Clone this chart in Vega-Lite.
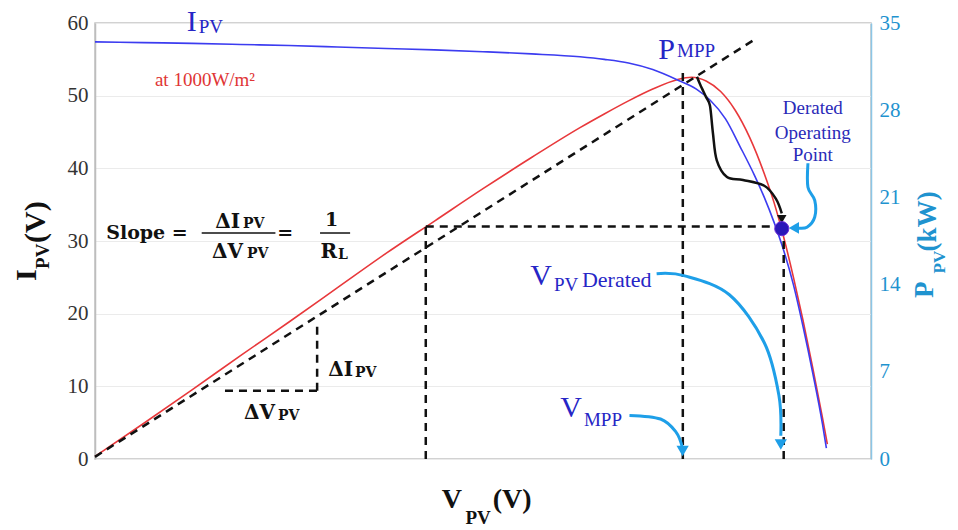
{
  "$schema": "https://vega.github.io/schema/vega-lite/v6.json",
  "width": 776,
  "height": 436,
  "autosize": {"type": "none"},
  "padding": {"left": 95, "top": 23, "right": 87, "bottom": 71},
  "background": "white",
  "config": {
    "view": {"stroke": "#c4c4c4", "strokeWidth": 1.5},
    "axis": {"labelFont": "Liberation Serif", "labelFontSize": 21, "labelColor": "#333333", "gridColor": "#ebebeb", "ticks": false, "domainColor": "#bdbdbd", "domainWidth": 1.5, "labelFlush": false, "labelOverlap": false}
  },
  "datasets": {
    "iv": [
      {"v": 0, "i": 57.4}, {"v": 50, "i": 57.3}, {"v": 100, "i": 57.2}, {"v": 150, "i": 57.05}, {"v": 200, "i": 56.9},
      {"v": 250, "i": 56.7}, {"v": 300, "i": 56.5}, {"v": 350, "i": 56.3}, {"v": 400, "i": 56.05}, {"v": 450, "i": 55.75},
      {"v": 500, "i": 55.35}, {"v": 525, "i": 55.0}, {"v": 550, "i": 54.5}, {"v": 575, "i": 53.6}, {"v": 600, "i": 52.2},
      {"v": 620, "i": 50.9}, {"v": 634, "i": 49.4}, {"v": 650, "i": 46.8}, {"v": 665, "i": 43.0}, {"v": 680, "i": 39.0},
      {"v": 690, "i": 36.0}, {"v": 700, "i": 32.6}, {"v": 710, "i": 28.7}, {"v": 720, "i": 24.0}, {"v": 730, "i": 18.2},
      {"v": 740, "i": 11.8}, {"v": 750, "i": 4.8}, {"v": 754, "i": 1.5}
    ],
    "pv": [
      {"v": 0, "p": 0.2}, {"v": 50, "p": 2.85}, {"v": 100, "p": 5.55}, {"v": 150, "p": 8.3}, {"v": 200, "p": 11.0},
      {"v": 250, "p": 13.75}, {"v": 300, "p": 16.5}, {"v": 350, "p": 19.1}, {"v": 400, "p": 21.7}, {"v": 450, "p": 24.2},
      {"v": 500, "p": 26.6}, {"v": 525, "p": 27.7}, {"v": 550, "p": 28.75}, {"v": 575, "p": 29.7}, {"v": 600, "p": 30.45},
      {"v": 615, "p": 30.65}, {"v": 630, "p": 30.35}, {"v": 645, "p": 29.5}, {"v": 660, "p": 28.0}, {"v": 675, "p": 25.8},
      {"v": 690, "p": 22.9}, {"v": 700, "p": 20.6}, {"v": 710, "p": 17.8}, {"v": 720, "p": 14.6}, {"v": 730, "p": 11.1},
      {"v": 740, "p": 7.3}, {"v": 750, "p": 3.3}, {"v": 755, "p": 1.2}
    ],
    "dashed": [
      {"v": 0, "i": 0.3, "v2": 682, "i2": 57.9},
      {"v": 606, "i": 0, "v2": 606, "i2": 53.5},
      {"v": 341, "i": 32.0, "v2": 709, "i2": 32.0},
      {"v": 341, "i": 0, "v2": 341, "i2": 32.0},
      {"v": 710, "i": 0, "v2": 710, "i2": 32.0},
      {"v": 134, "i": 9.4, "v2": 229, "i2": 9.4},
      {"v": 229, "i": 9.4, "v2": 229, "i2": 18.2}
    ],
    "bars": [
      {"v": 110, "i": 31.1, "v2": 186, "i2": 31.1},
      {"v": 232, "i": 31.1, "v2": 263, "i2": 31.1}
    ],
    "blackArrow": [
      {"k": 1, "v": 620.6, "i": 52.6}, {"k": 2, "v": 624, "i": 51.5}, {"k": 3, "v": 630, "i": 49.8},
      {"k": 4, "v": 634, "i": 48.6}, {"k": 5, "v": 637, "i": 44.9}, {"k": 6, "v": 641, "i": 41.1},
      {"k": 7, "v": 651.5, "i": 38.8}, {"k": 8, "v": 668, "i": 38.4}, {"k": 9, "v": 690, "i": 37.6},
      {"k": 10, "v": 702, "i": 35.8}, {"k": 11, "v": 708, "i": 33.8}
    ],
    "blackHead": [{"v": 708, "i": 33.0}],
    "blueArrows": [
      {"id": "a", "k": 1, "v": 551, "i": 6.0}, {"id": "a", "k": 2, "v": 583, "i": 5.5}, {"id": "a", "k": 3, "v": 599, "i": 3.7}, {"id": "a", "k": 4, "v": 605.5, "i": 1.6},
      {"id": "b", "k": 1, "v": 579, "i": 25.5}, {"id": "b", "k": 2, "v": 608, "i": 25.2}, {"id": "b", "k": 3, "v": 654, "i": 22.6}, {"id": "b", "k": 4, "v": 690, "i": 16.0}, {"id": "b", "k": 5, "v": 705, "i": 8.8}, {"id": "b", "k": 6, "v": 707, "i": 3.2},
      {"id": "c", "k": 1, "v": 735, "i": 40.7}, {"id": "c", "k": 2, "v": 735, "i": 37.4}, {"id": "c", "k": 3, "v": 742, "i": 35.6}, {"id": "c", "k": 4, "v": 742, "i": 33.3}, {"id": "c", "k": 5, "v": 734, "i": 31.9}, {"id": "c", "k": 6, "v": 724, "i": 31.8}
    ],
    "blueHeadsDown": [{"v": 605.8, "i": 1.1}, {"v": 707, "i": 2.0}],
    "blueHeadsLeft": [{"v": 720.5, "i": 31.8}],
    "dot": [{"v": 708, "i": 31.7}],
    "tBigR": [
      {"t": "I", "v": 105, "i": 60.1},
      {"t": "P", "v": 598, "i": 56.3},
      {"t": "V", "v": 471.1, "i": 25.2},
      {"t": "V", "v": 502, "i": 7.0}
    ],
    "tSubL": [
      {"t": "PV", "v": 107, "i": 59.4},
      {"t": "MPP", "v": 600, "i": 56.1},
      {"t": "PV", "v": 473.2, "i": 23.9},
      {"t": "MPP", "v": 504.1, "i": 5.4}
    ],
    "tMidL": [
      {"t": "Derated", "v": 502, "i": 24.6}
    ],
    "tOp": [
      {"t": "Derated", "v": 740, "i": 48.3},
      {"t": "Operating", "v": 740, "i": 44.9},
      {"t": "Point", "v": 740, "i": 41.8}
    ],
    "tRed": [
      {"t": "at 1000W/m²", "v": 113.4, "i": 52.2}
    ],
    "tMathC": [
      {"t": "Slope =", "v": 53.6, "i": 31.1},
      {"t": "=", "v": 196, "i": 31.1},
      {"t": "1", "v": 244, "i": 32.9}
    ],
    "tMathR": [
      {"t": "ΔI", "v": 149.5, "i": 32.6},
      {"t": "ΔV", "v": 152.6, "i": 28.5},
      {"t": "R", "v": 249.5, "i": 28.5},
      {"t": "ΔI", "v": 266, "i": 12.2},
      {"t": "ΔV", "v": 185.6, "i": 6.3}
    ],
    "tMathSubL": [
      {"t": "PV", "v": 152.6, "i": 32.3},
      {"t": "PV", "v": 156.7, "i": 28.2},
      {"t": "L", "v": 250.5, "i": 28.1},
      {"t": "PV", "v": 268, "i": 11.8},
      {"t": "PV", "v": 188.7, "i": 5.9}
    ],
    "tTitleLeftBig": [
      {"t": "I", "v": -70, "i": 25.3},
      {"t": "(V)", "v": -60.8, "i": 32.6}
    ],
    "tTitleLeftSub": [
      {"t": "PV", "v": -53.6, "i": 27.9}
    ],
    "tTitleBottomBig": [
      {"t": "V", "v": 368, "i": -5.6},
      {"t": "(V)", "v": 430, "i": -5.6}
    ],
    "tTitleBottomSub": [
      {"t": "PV", "v": 395, "i": -8.1}
    ],
    "tTitleRightBig": [
      {"t": "P", "v": 855.7, "i": 23.3},
      {"t": "(kW)", "v": 858.8, "i": 32.7}
    ],
    "tTitleRightSub": [
      {"t": "PV", "v": 871.1, "i": 27.1}
    ]
  },
  "layer": [
    {
      "data": {"name": "pv"},
      "mark": {"type": "line", "color": "#e8383b", "strokeWidth": 1.6, "interpolate": "monotone"},
      "encoding": {
        "x": {"field": "v", "type": "quantitative", "scale": {"domain": [0, 800], "nice": false}, "axis": null},
        "y": {"field": "p", "type": "quantitative", "scale": {"domain": [0, 35], "nice": false},
          "axis": {"orient": "right", "title": null, "values": [0, 7, 14, 21, 28, 35], "grid": false, "labelFont": "Liberation Serif", "labelFontSize": 21, "labelColor": "#1f93cf", "domainColor": "#8cc6e6", "labelPadding": 8}}
      }
    },
    {
      "encoding": {
        "x": {"field": "v", "type": "quantitative", "scale": {"domain": [0, 800], "nice": false},
          "axis": {"title": null, "values": [0, 100, 200, 300, 400, 500, 600, 700, 800], "grid": true, "labelFont": "Liberation Serif", "labelFontSize": 21, "labelColor": "#333333", "labelPadding": 9}},
        "y": {"field": "i", "type": "quantitative", "scale": {"domain": [0, 60], "nice": false},
          "axis": {"orient": "left", "title": null, "values": [0, 10, 20, 30, 40, 50, 60], "grid": true, "labelFont": "Liberation Serif", "labelFontSize": 21, "labelColor": "#333333", "labelPadding": 7}}
      },
      "layer": [
        {"data": {"name": "iv"}, "mark": {"type": "line", "color": "#3c3cf0", "strokeWidth": 1.6, "interpolate": "monotone"}},
        {"data": {"name": "dashed"}, "mark": {"type": "rule", "color": "#111111", "strokeWidth": 2.5, "strokeDash": [8, 6]},
          "encoding": {"x2": {"field": "v2"}, "y2": {"field": "i2"}}},
        {"data": {"name": "bars"}, "mark": {"type": "rule", "color": "#111111", "strokeWidth": 1.5},
          "encoding": {"x2": {"field": "v2"}, "y2": {"field": "i2"}}},
        {"data": {"name": "blueArrows"}, "mark": {"type": "line", "color": "#1e9fe8", "strokeWidth": 3, "interpolate": "cardinal"},
          "encoding": {"detail": {"field": "id"}, "order": {"field": "k", "type": "quantitative"}}},
        {"data": {"name": "blackArrow"}, "mark": {"type": "line", "color": "#111111", "strokeWidth": 2.5, "interpolate": "cardinal"},
          "encoding": {"order": {"field": "k", "type": "quantitative"}}},
        {"data": {"name": "blackHead"}, "mark": {"type": "point", "shape": "triangle-down", "filled": true, "color": "#111111", "size": 90, "opacity": 1}},
        {"data": {"name": "blueHeadsDown"}, "mark": {"type": "point", "shape": "triangle-down", "filled": true, "color": "#1e9fe8", "size": 150, "opacity": 1}},
        {"data": {"name": "blueHeadsLeft"}, "mark": {"type": "point", "shape": "triangle-left", "filled": true, "color": "#1e9fe8", "size": 140, "opacity": 1}},
        {"data": {"name": "dot"}, "mark": {"type": "point", "shape": "circle", "filled": true, "color": "#2a18b8", "size": 200, "opacity": 1, "stroke": "#6a2ad8", "strokeWidth": 1}},
        {"data": {"name": "tBigR"}, "mark": {"type": "text", "font": "Liberation Serif", "fontSize": 30, "color": "#2626c6", "align": "right", "baseline": "middle"},
          "encoding": {"text": {"field": "t"}}},
        {"data": {"name": "tSubL"}, "mark": {"type": "text", "font": "Liberation Serif", "fontSize": 19, "color": "#2626c6", "align": "left", "baseline": "middle"},
          "encoding": {"text": {"field": "t"}}},
        {"data": {"name": "tMidL"}, "mark": {"type": "text", "font": "Liberation Serif", "fontSize": 22, "color": "#2626c6", "align": "left", "baseline": "middle"},
          "encoding": {"text": {"field": "t"}}},
        {"data": {"name": "tOp"}, "mark": {"type": "text", "font": "Liberation Serif", "fontSize": 19, "color": "#2a2ab8", "align": "center", "baseline": "middle"},
          "encoding": {"text": {"field": "t"}}},
        {"data": {"name": "tRed"}, "mark": {"type": "text", "font": "Liberation Serif", "fontSize": 19, "color": "#e03535", "align": "center", "baseline": "middle"},
          "encoding": {"text": {"field": "t"}}},
        {"data": {"name": "tMathC"}, "mark": {"type": "text", "font": "DejaVu Serif", "fontWeight": "bold", "fontSize": 19, "color": "#111111", "align": "center", "baseline": "middle"},
          "encoding": {"text": {"field": "t"}}},
        {"data": {"name": "tMathR"}, "mark": {"type": "text", "font": "DejaVu Serif", "fontWeight": "bold", "fontSize": 20, "color": "#111111", "align": "right", "baseline": "middle"},
          "encoding": {"text": {"field": "t"}}},
        {"data": {"name": "tMathSubL"}, "mark": {"type": "text", "font": "DejaVu Serif", "fontWeight": "bold", "fontSize": 14, "color": "#111111", "align": "left", "baseline": "middle"},
          "encoding": {"text": {"field": "t"}}},
        {"data": {"name": "tTitleLeftBig"}, "mark": {"type": "text", "font": "Liberation Serif", "fontWeight": "bold", "fontSize": 30, "color": "#111111", "align": "center", "baseline": "middle", "angle": 270},
          "encoding": {"text": {"field": "t"}}},
        {"data": {"name": "tTitleLeftSub"}, "mark": {"type": "text", "font": "Liberation Serif", "fontWeight": "bold", "fontSize": 19, "color": "#111111", "align": "center", "baseline": "middle", "angle": 270},
          "encoding": {"text": {"field": "t"}}},
        {"data": {"name": "tTitleBottomBig"}, "mark": {"type": "text", "font": "Liberation Serif", "fontWeight": "bold", "fontSize": 28, "color": "#111111", "align": "center", "baseline": "middle"},
          "encoding": {"text": {"field": "t"}}},
        {"data": {"name": "tTitleBottomSub"}, "mark": {"type": "text", "font": "Liberation Serif", "fontWeight": "bold", "fontSize": 19, "color": "#111111", "align": "center", "baseline": "middle"},
          "encoding": {"text": {"field": "t"}}},
        {"data": {"name": "tTitleRightBig"}, "mark": {"type": "text", "font": "Liberation Serif", "fontWeight": "bold", "fontSize": 27, "color": "#1f93cf", "align": "center", "baseline": "middle", "angle": 270},
          "encoding": {"text": {"field": "t"}}},
        {"data": {"name": "tTitleRightSub"}, "mark": {"type": "text", "font": "Liberation Serif", "fontWeight": "bold", "fontSize": 17, "color": "#1f93cf", "align": "center", "baseline": "middle", "angle": 270},
          "encoding": {"text": {"field": "t"}}}
      ]
    }
  ],
  "resolve": {"scale": {"y": "independent"}}
}
